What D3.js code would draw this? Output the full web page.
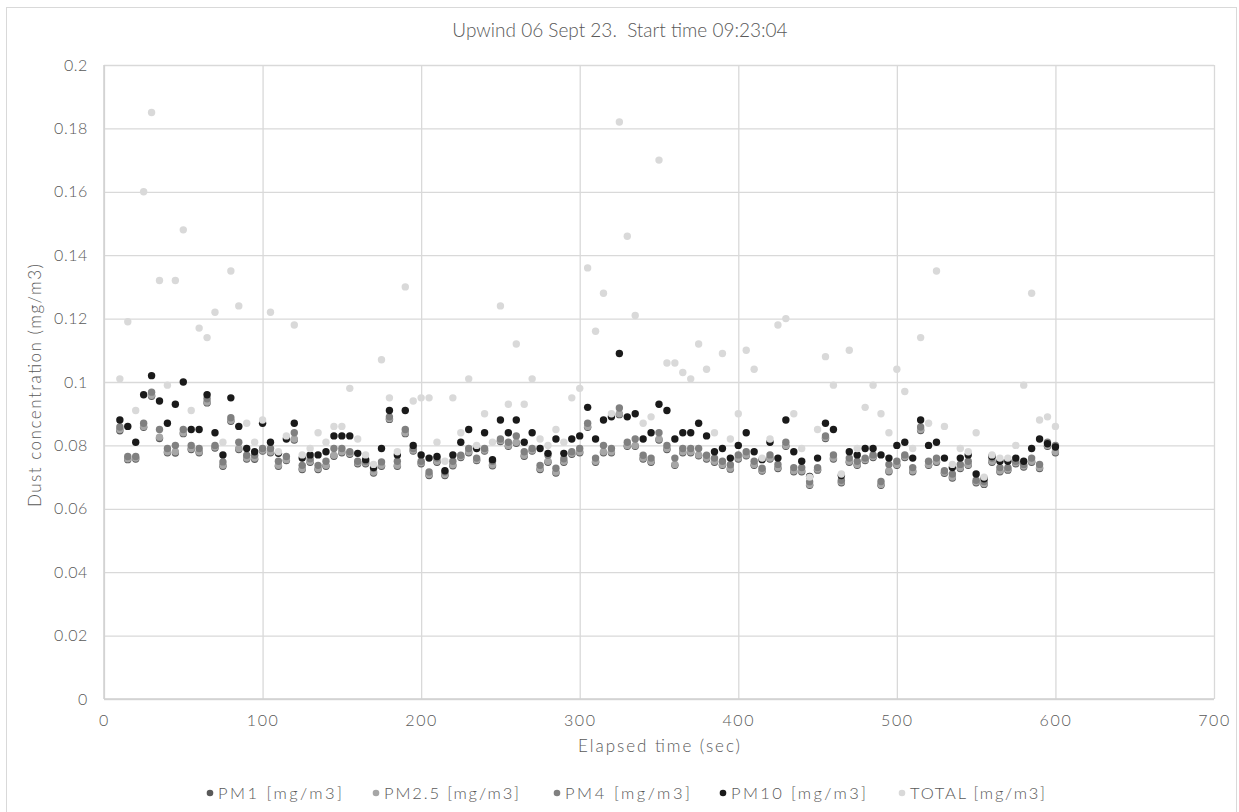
<!DOCTYPE html>
<html>
<head>
<meta charset="utf-8">
<script src="https://cdn.jsdelivr.net/npm/d3@7/dist/d3.min.js"></script>
<style>
  html, body { margin: 0; padding: 0; background: #ffffff; }
  svg { display: block; }
  text { font-family: "Lato", "Open Sans", sans-serif; font-weight: 300; fill: #595959; }
</style>
</head>
<body>
<svg id="chart" width="1239" height="812"></svg>
<script>
// Elapsed time of each sample (sec)
const elapsed = d3.range(10, 601, 5);

// Dust concentration readings (mg/m3), one value per sample
const pm1 = [
  0.0846,0.0755,0.0757,0.0857,0.0955,0.0822,0.0777,0.0776,0.0837,0.0787,
  0.0777,0.0934,0.0792,0.0734,0.0876,0.0787,0.0757,0.0756,0.0782,0.0777,
  0.0734,0.0752,0.0817,0.0724,0.0747,0.0724,0.0734,0.0766,0.0777,0.0772,
  0.0742,0.0742,0.0713,0.0734,0.0882,0.0734,0.0837,0.0782,0.0742,0.0705,
  0.0747,0.0705,0.0736,0.0762,0.0777,0.0752,0.0782,0.0736,0.0812,0.0797,
  0.0807,0.0766,0.0782,0.0724,0.0747,0.0713,0.0747,0.0772,0.0777,0.0857,
  0.0747,0.0777,0.0777,0.0897,0.0797,0.0797,0.0757,0.0747,0.0817,0.0787,
  0.0737,0.0777,0.0777,0.0767,0.0757,0.0747,0.0737,0.0725,0.0757,0.0767,
  0.0737,0.0719,0.0757,0.0727,0.0797,0.0717,0.0717,0.0674,0.0722,0.0822,
  0.0757,0.0682,0.0747,0.0737,0.0752,0.0762,0.0674,0.0717,0.0737,0.0762,
  0.0717,0.0847,0.0737,0.0747,0.0712,0.0697,0.0727,0.0737,0.0682,0.0677,
  0.0747,0.0717,0.0722,0.0742,0.0732,0.0747,0.0727,0.0797,0.0777
];
const pm25 = [
  0.0850,0.0758,0.0760,0.0860,0.0958,0.0826,0.0780,0.0780,0.0840,0.0790,
  0.0780,0.0937,0.0795,0.0737,0.0879,0.0790,0.0760,0.0760,0.0785,0.0780,
  0.0737,0.0755,0.0820,0.0727,0.0750,0.0727,0.0737,0.0769,0.0780,0.0775,
  0.0745,0.0745,0.0716,0.0737,0.0885,0.0737,0.0840,0.0785,0.0745,0.0708,
  0.0750,0.0708,0.0739,0.0765,0.0780,0.0755,0.0785,0.0739,0.0815,0.0800,
  0.0810,0.0769,0.0785,0.0727,0.0750,0.0716,0.0750,0.0775,0.0780,0.0860,
  0.0750,0.0780,0.0780,0.0900,0.0800,0.0800,0.0760,0.0750,0.0820,0.0790,
  0.0740,0.0780,0.0780,0.0770,0.0760,0.0750,0.0740,0.0728,0.0760,0.0770,
  0.0740,0.0722,0.0760,0.0730,0.0800,0.0720,0.0720,0.0677,0.0725,0.0825,
  0.0760,0.0685,0.0750,0.0740,0.0755,0.0765,0.0677,0.0720,0.0740,0.0765,
  0.0720,0.0850,0.0740,0.0750,0.0715,0.0700,0.0730,0.0740,0.0685,0.0680,
  0.0750,0.0720,0.0725,0.0745,0.0735,0.0750,0.0730,0.0800,0.0780
];
const pm4 = [
  0.0858,0.0765,0.0765,0.0870,0.0968,0.0850,0.0790,0.0800,0.0850,0.0800,
  0.0790,0.0947,0.0800,0.0748,0.0887,0.0810,0.0769,0.0769,0.0790,0.0790,
  0.0750,0.0765,0.0840,0.0737,0.0758,0.0737,0.0750,0.0790,0.0790,0.0780,
  0.0750,0.0750,0.0727,0.0748,0.0890,0.0750,0.0850,0.0790,0.0750,0.0716,
  0.0760,0.0716,0.0750,0.0769,0.0790,0.0760,0.0790,0.0750,0.0820,0.0810,
  0.0830,0.0780,0.0790,0.0737,0.0769,0.0728,0.0758,0.0780,0.0790,0.0870,
  0.0760,0.0800,0.0790,0.0918,0.0810,0.0820,0.0769,0.0760,0.0840,0.0800,
  0.0760,0.0790,0.0790,0.0790,0.0769,0.0760,0.0750,0.0739,0.0770,0.0780,
  0.0750,0.0728,0.0770,0.0740,0.0810,0.0730,0.0730,0.0685,0.0730,0.0830,
  0.0770,0.0690,0.0760,0.0750,0.0760,0.0770,0.0686,0.0740,0.0750,0.0770,
  0.0730,0.0858,0.0750,0.0760,0.0720,0.0710,0.0740,0.0750,0.0690,0.0686,
  0.0760,0.0730,0.0730,0.0750,0.0740,0.0760,0.0740,0.0810,0.0800
];
const pm10 = [
  0.0880,0.0860,0.0810,0.0960,0.1020,0.0940,0.0870,0.0930,0.1000,0.0850,
  0.0850,0.0960,0.0840,0.0770,0.0950,0.0860,0.0790,0.0780,0.0870,0.0810,
  0.0775,0.0820,0.0870,0.0760,0.0770,0.0770,0.0780,0.0830,0.0830,0.0830,
  0.0775,0.0755,0.0730,0.0790,0.0910,0.0770,0.0910,0.0800,0.0770,0.0760,
  0.0765,0.0720,0.0770,0.0810,0.0850,0.0790,0.0840,0.0755,0.0880,0.0840,
  0.0880,0.0810,0.0840,0.0790,0.0775,0.0820,0.0775,0.0820,0.0830,0.0920,
  0.0820,0.0880,0.0890,0.1090,0.0890,0.0900,0.0820,0.0840,0.0930,0.0910,
  0.0820,0.0840,0.0840,0.0870,0.0830,0.0780,0.0790,0.0760,0.0800,0.0840,
  0.0780,0.0755,0.0810,0.0760,0.0880,0.0780,0.0750,0.0702,0.0760,0.0870,
  0.0850,0.0705,0.0780,0.0770,0.0790,0.0790,0.0770,0.0760,0.0800,0.0810,
  0.0760,0.0880,0.0800,0.0810,0.0760,0.0730,0.0760,0.0770,0.0710,0.0695,
  0.0765,0.0750,0.0750,0.0760,0.0750,0.0790,0.0820,0.0805,0.0795
];
const total = [
  0.101,0.119,0.091,0.160,0.185,0.132,0.099,0.132,0.148,0.091,
  0.117,0.114,0.122,0.081,0.135,0.124,0.087,0.081,0.088,0.122,
  0.078,0.083,0.118,0.077,0.079,0.084,0.081,0.086,0.086,0.098,
  0.082,0.077,0.074,0.107,0.095,0.078,0.130,0.094,0.095,0.095,
  0.081,0.075,0.095,0.084,0.101,0.080,0.090,0.081,0.124,0.093,
  0.112,0.093,0.101,0.082,0.080,0.085,0.081,0.095,0.098,0.136,
  0.116,0.128,0.090,0.182,0.146,0.121,0.087,0.089,0.170,0.106,
  0.106,0.103,0.101,0.112,0.104,0.084,0.109,0.082,0.090,0.110,
  0.104,0.076,0.082,0.118,0.120,0.090,0.079,0.070,0.085,0.108,
  0.099,0.071,0.110,0.079,0.092,0.099,0.090,0.084,0.104,0.097,
  0.079,0.114,0.087,0.135,0.086,0.074,0.079,0.078,0.084,0.070,
  0.077,0.076,0.076,0.080,0.099,0.128,0.088,0.089,0.086
];

// Series names and marker colours, drawn in this order
const seriesNames = ["PM1 [mg/m3]", "PM2.5 [mg/m3]", "PM4 [mg/m3]", "PM10 [mg/m3]", "TOTAL [mg/m3]"];
const seriesValues = [pm1, pm25, pm4, pm10, total];
const seriesColors = ["#595959", "#a6a6a6", "#808080", "#1a1a1a", "#d9d9d9"];

// Axis ticks
const xTicks = [0, 100, 200, 300, 400, 500, 600, 700];
const yTicks = [0, 0.02, 0.04, 0.06, 0.08, 0.1, 0.12, 0.14, 0.16, 0.18, 0.2];
const yTickLabels = ["0", "0.02", "0.04", "0.06", "0.08", "0.1", "0.12", "0.14", "0.16", "0.18", "0.2"];

const svg = d3.select("#chart");
const plot = { left: 104, right: 1214, top: 65, bottom: 699 };

// Chart frame
svg.append("rect")
  .attr("x", 6.5).attr("y", 7.5)
  .attr("width", 1230).attr("height", 812)
  .attr("fill", "#ffffff")
  .attr("stroke", "#d9d9d9").attr("stroke-width", 1);

const x = d3.scaleLinear().domain([0, 700]).range([plot.left, plot.right]);
const y = d3.scaleLinear().domain([0, 0.2]).range([plot.bottom, plot.top]);

// Gridlines
const grid = svg.append("g");
grid.append("g")
  .attr("transform", `translate(0,${plot.bottom})`)
  .call(d3.axisBottom(x).tickValues(xTicks).tickSize(-(plot.bottom - plot.top)).tickFormat(""))
  .call(g => g.select(".domain").remove())
  .call(g => g.selectAll("line").attr("stroke", "#d9d9d9").attr("stroke-width", 1.3));
grid.append("g")
  .attr("transform", `translate(${plot.left},0)`)
  .call(d3.axisLeft(y).tickValues(yTicks).tickSize(-(plot.right - plot.left)).tickFormat(""))
  .call(g => g.select(".domain").remove())
  .call(g => g.selectAll("line").attr("stroke", "#d9d9d9").attr("stroke-width", 1.3));

// Axis lines
svg.append("line")
  .attr("x1", plot.left).attr("x2", plot.right)
  .attr("y1", y(0)).attr("y2", y(0))
  .attr("stroke", "#d0d0d0").attr("stroke-width", 1.5);
svg.append("line")
  .attr("x1", x(0)).attr("x2", x(0))
  .attr("y1", plot.top).attr("y2", plot.bottom)
  .attr("stroke", "#d0d0d0").attr("stroke-width", 1.5);

// Tick labels
const xAxis = svg.append("g")
  .attr("transform", `translate(0,${plot.bottom})`)
  .call(d3.axisBottom(x).tickValues(xTicks).tickSize(0).tickPadding(16).tickFormat(d3.format("d")));
xAxis.select(".domain").remove();
xAxis.selectAll("text").style("font-size", "16px").style("letter-spacing", "1.6px")
  .attr("fill", "#595959").style("font-family", "Lato, sans-serif").style("font-weight", 300);

const yAxis = svg.append("g")
  .attr("transform", `translate(${plot.left},0)`)
  .call(d3.axisLeft(y).tickValues(yTicks).tickSize(0).tickPadding(16)
    .tickFormat((d, i) => yTickLabels[i]));
yAxis.select(".domain").remove();
yAxis.selectAll("text").style("font-size", "16px").style("letter-spacing", "0.6px")
  .attr("fill", "#595959").style("font-family", "Lato, sans-serif").style("font-weight", 300);

// Data markers
const marks = svg.append("g");
seriesValues.forEach((vals, s) => {
  marks.append("g")
    .selectAll("circle")
    .data(vals.map((v, i) => ({ t: elapsed[i], v })))
    .join("circle")
    .attr("cx", d => x(d.t))
    .attr("cy", d => y(d.v))
    .attr("r", 3.7)
    .attr("fill", seriesColors[s]);
});

// Title (double space kept)
svg.append("text")
  .attr("x", 620).attr("y", 37)
  .attr("text-anchor", "middle")
  .style("font-size", "19px")
  .style("white-space", "pre")
  .text("Upwind 06 Sept 23.  Start time 09:23:04");

// Axis titles
svg.append("text")
  .attr("x", 578).attr("y", 752)
  .attr("textLength", 162).attr("lengthAdjust", "spacing")
  .style("font-size", "17px")
  .text("Elapsed time (sec)");

svg.append("text")
  .attr("transform", "translate(41,507) rotate(-90)")
  .attr("textLength", 243).attr("lengthAdjust", "spacing")
  .style("font-size", "17px")
  .text("Dust concentration (mg/m3)");

// Legend
const legendX = [210, 376, 557, 723, 902];
const legendW = [124, 135, 125, 135, 135];
const legend = svg.append("g");
seriesNames.forEach((name, s) => {
  const g = legend.append("g").attr("transform", `translate(${legendX[s]},793)`);
  g.append("circle").attr("r", 3.3).attr("fill", seriesColors[s]);
  g.append("text").attr("x", 8).attr("y", 6)
    .attr("textLength", legendW[s]).attr("lengthAdjust", "spacing")
    .style("font-size", "16.5px")
    .text(name);
});
</script>
</body>
</html>
